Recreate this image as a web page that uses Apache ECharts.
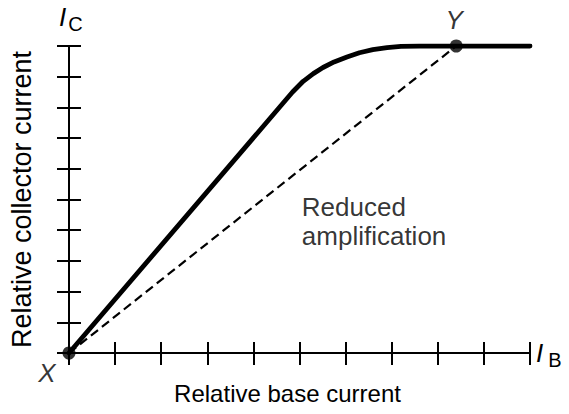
<!DOCTYPE html>
<html><head><meta charset="utf-8">
<script src="https://cdn.jsdelivr.net/npm/echarts@6/dist/echarts.min.js"></script>
<style>html,body{margin:0;padding:0;background:#fff}#c{width:569px;height:414px}</style>
</head><body><div id="c"></div>
<script>
// Data (relative units: base current 0..10, collector current 0..10)
const curveX = [0, 4.65, 4.85, 5.08, 5.3, 5.51, 5.75, 6.03, 6.3, 6.59, 6.9, 7.2, 7.6, 10];
const curveY = [0, 8.15, 8.5, 8.85, 9.1, 9.3, 9.48, 9.64, 9.78, 9.88, 9.95, 9.99, 10, 10];
const pointX = [0, 8.4];
const pointY = [0, 10];
const pointNames = ['X', 'Y'];
const xTitle = 'Relative base current';
const yTitle = 'Relative collector current';
const noteText = 'Reduced\namplification';
const noteAt = [5.05, 4.28];

const FONT = '"Liberation Sans", Arial, sans-serif';
const chart = echarts.init(document.getElementById('c'), null, {renderer: 'svg'});

const axisBase = {
  type: 'value', min: 0, max: 10, interval: 1,
  splitLine: {show: false}, axisLabel: {show: false},
  axisLine: {show: true, lineStyle: {color: '#000', width: 2}}
};

chart.setOption({
  animation: false,
  grid: {left: 69, right: 39, top: 46, bottom: 61},
  xAxis: [
    Object.assign({}, axisBase, {
      axisTick: {show: true, inside: false, length: 12, lineStyle: {color: '#000', width: 2}},
      name: xTitle, nameLocation: 'middle', nameGap: 28,
      nameTextStyle: {fontFamily: FONT, fontSize: 24, color: '#000', padding: [0, 24, 0, 0]}
    }),
    Object.assign({}, axisBase, {
      position: 'bottom',
      axisTick: {show: true, inside: true, length: 11, lineStyle: {color: '#000', width: 2}},
      name: '{i|I}{s|B}', nameLocation: 'end', nameGap: 6,
      nameTextStyle: {rich: {
        i: {fontFamily: FONT, fontSize: 26, fontStyle: 'italic', color: '#000', verticalAlign: 'bottom', lineHeight: 26},
        s: {fontFamily: FONT, fontSize: 20, color: '#000', padding: [14, 0, 0, 5], lineHeight: 20}
      }}
    })
  ],
  yAxis: [
    Object.assign({}, axisBase, {
      axisTick: {show: true, inside: false, length: 12, lineStyle: {color: '#000', width: 2}},
      name: yTitle, nameLocation: 'middle', nameGap: 34,
      nameTextStyle: {fontFamily: FONT, fontSize: 27, color: '#000'}
    }),
    Object.assign({}, axisBase, {
      position: 'left',
      axisTick: {show: true, inside: true, length: 12, lineStyle: {color: '#000', width: 2}},
      name: '{i|I}{s|C}', nameLocation: 'end', nameGap: 16,
      nameTextStyle: {align: 'left', padding: [0, 0, 0, -10], rich: {
        i: {fontFamily: FONT, fontSize: 26, fontStyle: 'italic', color: '#000', lineHeight: 26},
        s: {fontFamily: FONT, fontSize: 20, color: '#000', padding: [14, 0, 0, 2], lineHeight: 20}
      }}
    })
  ],
  series: [
    {
      type: 'line', data: curveX.map((x, i) => [x, curveY[i]]),
      showSymbol: false, smooth: false, z: 3,
      lineStyle: {color: '#000', width: 4.8, cap: 'round', join: 'round'}
    },
    {
      type: 'line', data: pointX.map((x, i) => [x, pointY[i]]),
      showSymbol: false, z: 2,
      lineStyle: {color: '#000', width: 2.2, type: [9, 5]}
    },
    {
      type: 'scatter', z: 5, symbolSize: 13,
      itemStyle: {color: '#000'},
      data: pointX.map((x, i) => ({
        value: [x, pointY[i]], name: pointNames[i],
        label: {
          show: true, formatter: pointNames[i], fontFamily: FONT, fontSize: 26,
          fontStyle: 'italic', color: '#000',
          position: i === 0 ? 'bottom' : 'top',
          offset: i === 0 ? [-22, -5] : [-2, -2]
        }
      }))
    },
    {
      type: 'scatter', symbolSize: 0, silent: true,
      data: [noteAt],
      label: {
        show: true, formatter: noteText, position: 'right', align: 'left', distance: 0,
        fontFamily: FONT, fontSize: 26, lineHeight: 29, color: '#000'
      }
    }
  ]
});
</script></body></html>
